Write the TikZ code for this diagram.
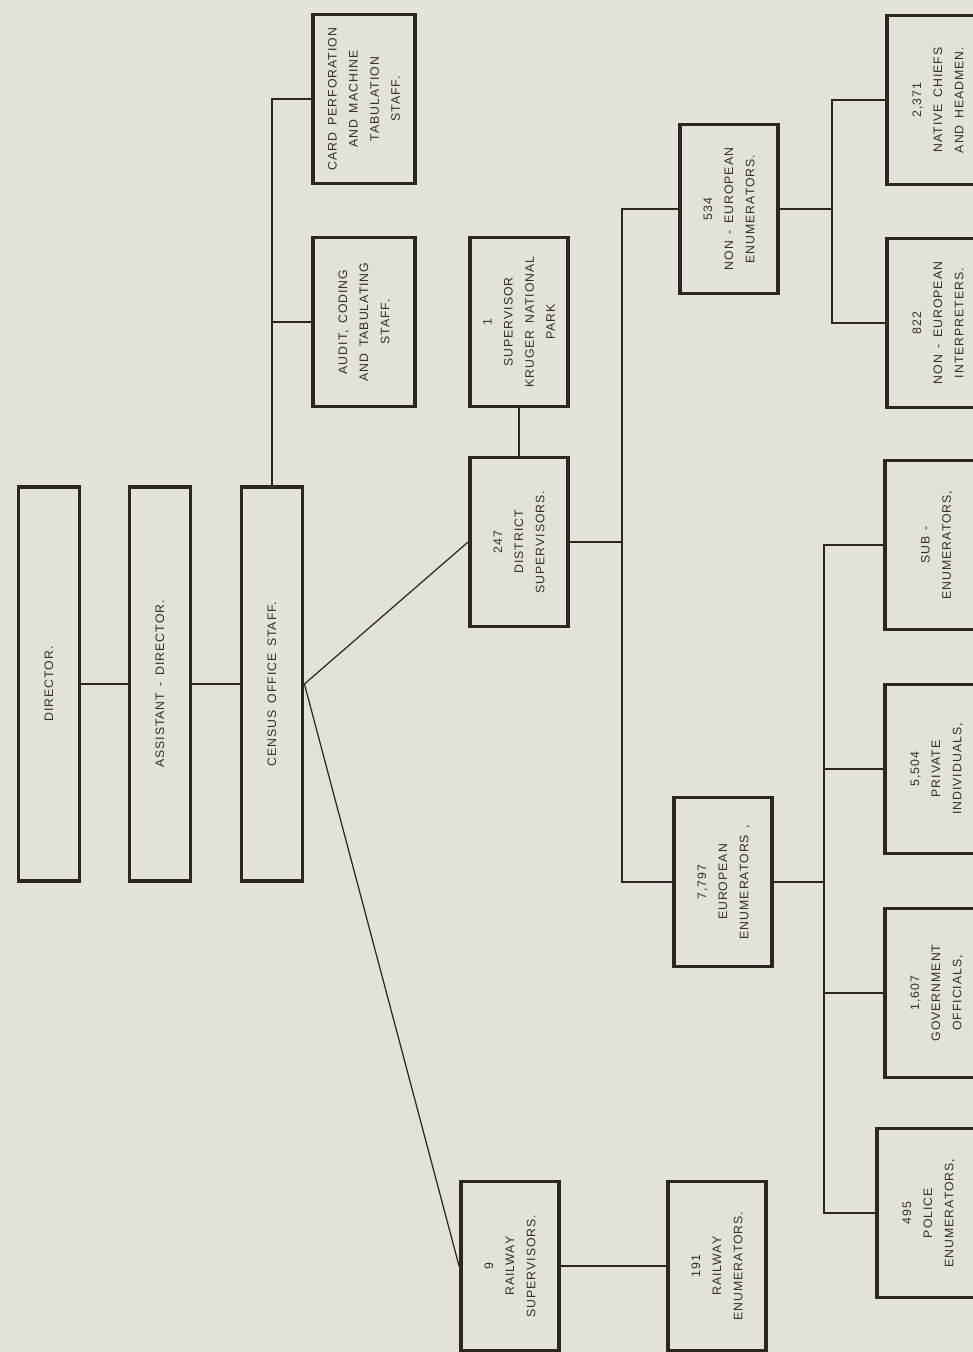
\documentclass[tikz,border=0pt]{standalone}
\usepackage{fontspec}
\setmainfont[LetterSpace=8,WordSpace=1.5]{Liberation Sans}
\usepackage{tikz}
\usetikzlibrary{positioning,calc}
\definecolor{paper}{HTML}{E4E1D8}
\definecolor{ink}{HTML}{2B2622}
\definecolor{inktext}{HTML}{332E2A}
\newlength\px
\setlength\px{0.02cm}
\newcommand{\vlabel}[1]{\rotatebox{90}{\renewcommand{\arraystretch}{1.5}\begin{tabular}{@{}c@{}}#1\end{tabular}}}

\begin{document}
\begin{tikzpicture}[x=0.02cm,y=-0.02cm,
    post/.style={draw=ink,line width=2.2pt,fill=paper,inner sep=0pt,text=inktext,
      font=\fontsize{7}{8}\selectfont,minimum width=98*\px,minimum height=169*\px},
    tall/.style={post,minimum width=61*\px,minimum height=394*\px},
    edge/.style={post,minimum width=102*\px},
    link/.style={draw=ink,line width=0.7pt}]
  \useasboundingbox (0,0) rectangle (973,1352);
  \clip (0,0) rectangle (973,1352);
  \fill[paper] (0,0) rectangle (973,1352);

  % Head office
  \node[tall] (director) at (49,684) {\vlabel{DIRECTOR.}};
  \node[tall] (assistant) at (160,684) {\vlabel{ASSISTANT - DIRECTOR.}};
  \node[tall] (office) at (272,684) {\vlabel{CENSUS OFFICE STAFF.}};

  % Office staff
  \node[post,minimum width=102*\px] (audit) at (364,322) {\vlabel{AUDIT, CODING\\AND TABULATING\\STAFF.}};
  \node[post,minimum width=102*\px] (card) at (364,99) {\vlabel{CARD PERFORATION\\AND MACHINE\\TABULATION\\STAFF.}};

  % Field supervisors
  \node[post] (kruger) at (519,322) {\vlabel{1\\SUPERVISOR\\KRUGER NATIONAL\\PARK}};
  \node[post] (district) at (519,542) {\vlabel{247\\DISTRICT\\SUPERVISORS.}};
  \node[post] (railsup) at (510,1266) {\vlabel{9\\RAILWAY\\SUPERVISORS.}};
  \node[post] (railenum) at (717,1266) {\vlabel{191\\RAILWAY\\ENUMERATORS.}};

  % Enumerators
  \node[post] (noneuro) at (729,209) {\vlabel{534\\NON - EUROPEAN\\ENUMERATORS.}};
  \node[post] (euro) at (723,882) {\vlabel{7,797\\EUROPEAN\\ENUMERATORS ,}};

  % Right column
  \node[edge] (chiefs) at (938,100) {\vlabel{2,371\\NATIVE CHIEFS\\AND HEADMEN.}};
  \node[edge] (interp) at (938,323) {\vlabel{822\\NON - EUROPEAN\\INTERPRETERS.}};
  \node[edge] (subenum) at (936,545) {\vlabel{SUB -\\ENUMERATORS,}};
  \node[edge] (private) at (936,769) {\vlabel{5,504\\PRIVATE\\INDIVIDUALS,}};
  \node[edge] (govt) at (936,993) {\vlabel{1,607\\GOVERNMENT\\OFFICIALS,}};
  \node[edge] (police) at (928,1213) {\vlabel{495\\POLICE\\ENUMERATORS,}};

  % Junctions
  \coordinate (jdist) at (622,542);
  \coordinate (jnon) at (832,209);
  \coordinate (jeuro) at (824,882);

  % Connectors
  \draw[link] (director) -- (assistant);
  \draw[link] (assistant) -- (office);
  \draw[link] (office.north) |- (audit.west);
  \draw[link] (office.north) |- (card.west);
  \draw[link] (office.east) -- (district.west);
  \draw[link] (office.east) -- (railsup.west);
  \draw[link] (district) -- (kruger);
  \draw[link] (railsup) -- (railenum);
  \draw[link] (district.east) -- (jdist);
  \draw[link] (jdist) |- (noneuro.west);
  \draw[link] (jdist) |- (euro.west);
  \draw[link] (noneuro.east) -- (jnon);
  \draw[link] (jnon) |- (chiefs.west);
  \draw[link] (jnon) |- (interp.west);
  \draw[link] (euro.east) -- (jeuro);
  \foreach \n in {subenum,private,govt,police}
    \draw[link] (jeuro) |- (\n.west);
\end{tikzpicture}
\end{document}
